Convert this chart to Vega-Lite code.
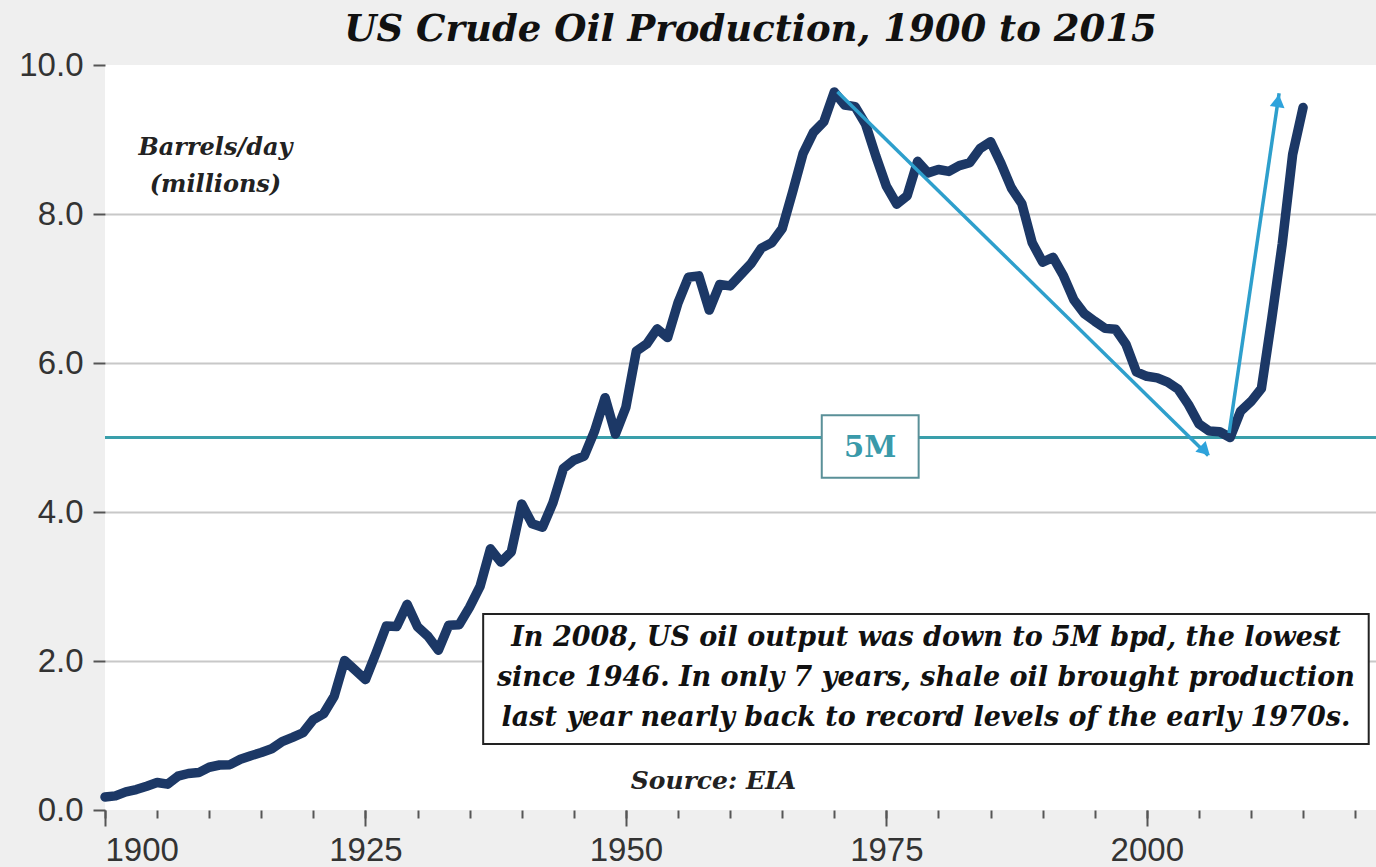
{
  "$schema": "https://vega.github.io/schema/vega-lite/v6.json",
  "width": 1271,
  "height": 745,
  "autosize": {"type": "none"},
  "padding": {"left": 105, "top": 65, "right": 0, "bottom": 57},
  "background": "#efefef",
  "view": {"fill": "white", "stroke": null},
  "title": {
    "text": "US Crude Oil Production, 1900 to 2015",
    "font": "DejaVu Serif",
    "fontSize": 37,
    "fontStyle": "italic",
    "fontWeight": "bold",
    "color": "#111111",
    "anchor": "middle",
    "offset": 0,
    "dx": 10
  },
  "datasets": {
    "oil": [
      {"year": 1900, "val": 0.174}, {"year": 1901, "val": 0.190}, {"year": 1902, "val": 0.243}, {"year": 1903, "val": 0.275},
      {"year": 1904, "val": 0.320}, {"year": 1905, "val": 0.369}, {"year": 1906, "val": 0.347}, {"year": 1907, "val": 0.454},
      {"year": 1908, "val": 0.490}, {"year": 1909, "val": 0.502}, {"year": 1910, "val": 0.574}, {"year": 1911, "val": 0.604},
      {"year": 1912, "val": 0.609}, {"year": 1913, "val": 0.681}, {"year": 1914, "val": 0.729}, {"year": 1915, "val": 0.771},
      {"year": 1916, "val": 0.822}, {"year": 1917, "val": 0.918}, {"year": 1918, "val": 0.975}, {"year": 1919, "val": 1.037},
      {"year": 1920, "val": 1.214}, {"year": 1921, "val": 1.295}, {"year": 1922, "val": 1.527}, {"year": 1923, "val": 2.007},
      {"year": 1924, "val": 1.88}, {"year": 1925, "val": 1.75}, {"year": 1926, "val": 2.10}, {"year": 1927, "val": 2.469},
      {"year": 1928, "val": 2.463}, {"year": 1929, "val": 2.760}, {"year": 1930, "val": 2.460}, {"year": 1931, "val": 2.332},
      {"year": 1932, "val": 2.145}, {"year": 1933, "val": 2.481}, {"year": 1934, "val": 2.488}, {"year": 1935, "val": 2.723},
      {"year": 1936, "val": 3.001}, {"year": 1937, "val": 3.505}, {"year": 1938, "val": 3.327}, {"year": 1939, "val": 3.466},
      {"year": 1940, "val": 4.107}, {"year": 1941, "val": 3.842}, {"year": 1942, "val": 3.796}, {"year": 1943, "val": 4.125},
      {"year": 1944, "val": 4.584}, {"year": 1945, "val": 4.695}, {"year": 1946, "val": 4.751}, {"year": 1947, "val": 5.088},
      {"year": 1948, "val": 5.535}, {"year": 1949, "val": 5.046}, {"year": 1950, "val": 5.407}, {"year": 1951, "val": 6.158},
      {"year": 1952, "val": 6.256}, {"year": 1953, "val": 6.458}, {"year": 1954, "val": 6.342}, {"year": 1955, "val": 6.807},
      {"year": 1956, "val": 7.151}, {"year": 1957, "val": 7.170}, {"year": 1958, "val": 6.710}, {"year": 1959, "val": 7.054},
      {"year": 1960, "val": 7.035}, {"year": 1961, "val": 7.183}, {"year": 1962, "val": 7.332}, {"year": 1963, "val": 7.542},
      {"year": 1964, "val": 7.614}, {"year": 1965, "val": 7.804}, {"year": 1966, "val": 8.295}, {"year": 1967, "val": 8.810},
      {"year": 1968, "val": 9.096}, {"year": 1969, "val": 9.238}, {"year": 1970, "val": 9.637}, {"year": 1971, "val": 9.463},
      {"year": 1972, "val": 9.441}, {"year": 1973, "val": 9.208}, {"year": 1974, "val": 8.774}, {"year": 1975, "val": 8.375},
      {"year": 1976, "val": 8.132}, {"year": 1977, "val": 8.245}, {"year": 1978, "val": 8.707}, {"year": 1979, "val": 8.552},
      {"year": 1980, "val": 8.597}, {"year": 1981, "val": 8.572}, {"year": 1982, "val": 8.649}, {"year": 1983, "val": 8.688},
      {"year": 1984, "val": 8.879}, {"year": 1985, "val": 8.971}, {"year": 1986, "val": 8.680}, {"year": 1987, "val": 8.349},
      {"year": 1988, "val": 8.140}, {"year": 1989, "val": 7.613}, {"year": 1990, "val": 7.355}, {"year": 1991, "val": 7.417},
      {"year": 1992, "val": 7.171}, {"year": 1993, "val": 6.847}, {"year": 1994, "val": 6.662}, {"year": 1995, "val": 6.560},
      {"year": 1996, "val": 6.465}, {"year": 1997, "val": 6.452}, {"year": 1998, "val": 6.252}, {"year": 1999, "val": 5.881},
      {"year": 2000, "val": 5.822}, {"year": 2001, "val": 5.801}, {"year": 2002, "val": 5.744}, {"year": 2003, "val": 5.649},
      {"year": 2004, "val": 5.441}, {"year": 2005, "val": 5.184}, {"year": 2006, "val": 5.086}, {"year": 2007, "val": 5.077},
      {"year": 2008, "val": 5.000}, {"year": 2009, "val": 5.353}, {"year": 2010, "val": 5.482}, {"year": 2011, "val": 5.658},
      {"year": 2012, "val": 6.6}, {"year": 2013, "val": 7.6}, {"year": 2014, "val": 8.8}, {"year": 2015, "val": 9.43}
    ],
    "arrows": [
      {"arrow": "decline", "year": 1970.3, "val": 9.64},
      {"arrow": "decline", "year": 2005.9, "val": 4.76},
      {"arrow": "rebound", "year": 2007.9, "val": 5.06},
      {"arrow": "rebound", "year": 2012.7, "val": 9.62}
    ],
    "headDecline": [{"year": 2005.6, "val": 4.82}],
    "headRebound": [{"year": 2012.6, "val": 9.52}],
    "level": [{"val": 5.0, "label": "5M", "year": 1973.45, "x1": 1968.8, "x2": 1978.1, "y1": 5.30, "y2": 4.46, "ty": 4.86}],
    "note": [{"x1": 1936.3, "x2": 2021.3, "y1": 2.63, "y2": 0.886}],
    "noteText": [
      {"year": 1978.8, "val": 2.31, "text": "In 2008, US oil output was down to 5M bpd, the lowest"},
      {"year": 1978.8, "val": 1.77, "text": "since 1946. In only 7 years, shale oil brought production"},
      {"year": 1978.8, "val": 1.23, "text": "last year nearly back to record levels of the early 1970s."}
    ],
    "labels": [
      {"year": 1910.6, "val": 8.89, "text": "Barrels/day", "size": "unit"},
      {"year": 1910.6, "val": 8.39, "text": "(millions)", "size": "unit"},
      {"year": 1958.4, "val": 0.39, "text": "Source: EIA", "size": "source"}
    ]
  },
  "layer": [
    {
      "data": {"name": "level"},
      "mark": {"type": "rule", "color": "#3a9fab", "strokeWidth": 3},
      "encoding": {
        "y": {"field": "val", "type": "quantitative", "scale": {"domain": [0, 10], "nice": false, "zero": false}, "axis": {"title": null}}
      }
    },
    {
      "data": {"name": "oil"},
      "mark": {"type": "line", "color": "#1c3866", "strokeWidth": 9.5, "strokeJoin": "round", "strokeCap": "round"},
      "encoding": {
        "x": {
          "field": "year", "type": "quantitative",
          "scale": {"domain": [1900, 2022], "nice": false, "zero": false},
          "axis": {
            "orient": "bottom",
            "values": [1900, 1925, 1950, 1975, 2000],
            "format": "d",
            "domain": false, "grid": false, "title": null,
            "tickSize": 16, "tickWidth": 2, "tickColor": "#555555",
            "labelFont": "Liberation Sans", "labelFontSize": 33, "labelColor": "#333333", "labelPadding": 8
          }
        },
        "y": {
          "field": "val", "type": "quantitative",
          "scale": {"domain": [0, 10], "nice": false, "zero": false},
          "axis": {
            "values": [0, 2, 4, 6, 8, 10],
            "format": ".1f",
            "title": null,
            "domain": false,
            "grid": true,
            "gridColor": "#c8c8c8",
            "gridWidth": 2,
            "gridOpacity": {"condition": {"test": "datum.value == 0 || datum.value == 10", "value": 0}, "value": 1},
            "tickSize": 12, "tickWidth": 2, "tickColor": "#555555",
            "labelFont": "Liberation Sans", "labelFontSize": 33, "labelColor": "#333333", "labelPadding": 10
          }
        }
      }
    },
    {
      "data": {"name": "arrows"},
      "mark": {"type": "line", "color": "#2e9fcc", "strokeWidth": 3.5},
      "encoding": {
        "x": {
          "field": "year", "type": "quantitative",
          "scale": {"domain": [1900, 2022], "nice": false, "zero": false},
          "axis": {
            "orient": "bottom",
            "values": [1900, 1905, 1910, 1915, 1920, 1925, 1930, 1935, 1940, 1945, 1950, 1955, 1960, 1965, 1970, 1975, 1980, 1985, 1990, 1995, 2000, 2005, 2010, 2015, 2020],
            "labels": false, "domain": false, "grid": false, "title": null,
            "tickSize": 8, "tickWidth": 2, "tickColor": "#555555"
          }
        },
        "y": {"field": "val", "type": "quantitative", "scale": {"domain": [0, 10], "nice": false, "zero": false}, "axis": {"title": null}},
        "detail": {"field": "arrow", "type": "nominal"}
      }
    },
    {
      "data": {"name": "headDecline"},
      "mark": {"type": "point", "shape": "triangle-up", "filled": true, "size": 220, "angle": 134, "color": "#2ea3dc", "opacity": 1},
      "encoding": {
        "x": {"field": "year", "type": "quantitative", "scale": {"domain": [1900, 2022], "nice": false, "zero": false}, "axis": null},
        "y": {"field": "val", "type": "quantitative", "scale": {"domain": [0, 10], "nice": false, "zero": false}, "axis": {"title": null}}
      }
    },
    {
      "data": {"name": "headRebound"},
      "mark": {"type": "point", "shape": "triangle-up", "filled": true, "size": 220, "angle": 8, "color": "#2ea3dc", "opacity": 1},
      "encoding": {
        "x": {"field": "year", "type": "quantitative", "scale": {"domain": [1900, 2022], "nice": false, "zero": false}, "axis": null},
        "y": {"field": "val", "type": "quantitative", "scale": {"domain": [0, 10], "nice": false, "zero": false}, "axis": {"title": null}}
      }
    },
    {
      "data": {"name": "level"},
      "mark": {"type": "rect", "fill": "white", "stroke": "#5a9098", "strokeWidth": 2},
      "encoding": {
        "x": {"field": "x1", "type": "quantitative", "scale": {"domain": [1900, 2022], "nice": false, "zero": false}, "axis": null},
        "x2": {"field": "x2"},
        "y": {"field": "y1", "type": "quantitative", "scale": {"domain": [0, 10], "nice": false, "zero": false}, "axis": {"title": null}},
        "y2": {"field": "y2"}
      }
    },
    {
      "data": {"name": "level"},
      "mark": {"type": "text", "font": "DejaVu Serif", "fontSize": 29, "fontWeight": "bold", "color": "#3a9aaa", "align": "center", "baseline": "middle"},
      "encoding": {
        "x": {"field": "year", "type": "quantitative", "scale": {"domain": [1900, 2022], "nice": false, "zero": false}, "axis": null},
        "y": {"field": "ty", "type": "quantitative", "scale": {"domain": [0, 10], "nice": false, "zero": false}, "axis": {"title": null}},
        "text": {"field": "label"}
      }
    },
    {
      "data": {"name": "note"},
      "mark": {"type": "rect", "fill": "white", "stroke": "#222222", "strokeWidth": 2},
      "encoding": {
        "x": {"field": "x1", "type": "quantitative", "scale": {"domain": [1900, 2022], "nice": false, "zero": false}, "axis": null},
        "x2": {"field": "x2"},
        "y": {"field": "y1", "type": "quantitative", "scale": {"domain": [0, 10], "nice": false, "zero": false}, "axis": {"title": null}},
        "y2": {"field": "y2"}
      }
    },
    {
      "data": {"name": "noteText"},
      "mark": {"type": "text", "font": "DejaVu Serif", "fontSize": 27, "fontWeight": "bold", "fontStyle": "italic", "color": "#111111", "align": "center", "baseline": "middle"},
      "encoding": {
        "x": {"field": "year", "type": "quantitative", "scale": {"domain": [1900, 2022], "nice": false, "zero": false}, "axis": null},
        "y": {"field": "val", "type": "quantitative", "scale": {"domain": [0, 10], "nice": false, "zero": false}, "axis": {"title": null}},
        "text": {"field": "text"}
      }
    },
    {
      "data": {"name": "labels"},
      "mark": {"type": "text", "font": "DejaVu Serif", "fontWeight": "bold", "fontStyle": "italic", "color": "#222222", "align": "center", "baseline": "middle"},
      "encoding": {
        "x": {"field": "year", "type": "quantitative", "scale": {"domain": [1900, 2022], "nice": false, "zero": false}, "axis": null},
        "y": {"field": "val", "type": "quantitative", "scale": {"domain": [0, 10], "nice": false, "zero": false}, "axis": {"title": null}},
        "text": {"field": "text"},
        "size": {"field": "size", "type": "nominal", "scale": {"domain": ["unit", "source"], "range": [24, 25]}, "legend": null}
      }
    }
  ],
  "resolve": {"axis": {"x": "independent"}}
}
